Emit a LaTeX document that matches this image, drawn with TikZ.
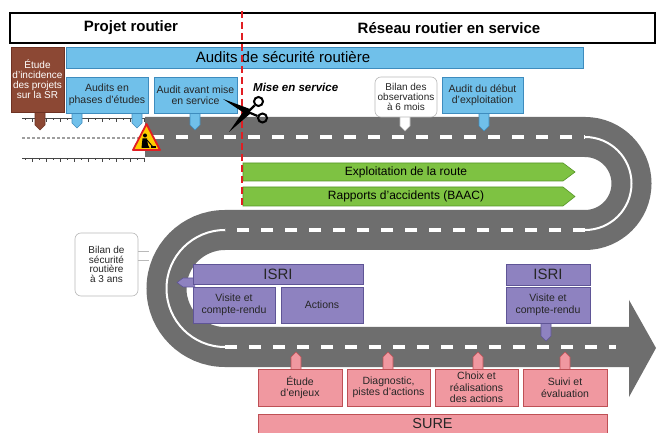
\documentclass[tikz,border=0pt]{standalone}
\usepackage{fontspec}
\setmainfont{Liberation Sans}
\usetikzlibrary{calc}

\definecolor{croad}{RGB}{110,110,110}
\definecolor{cblue}{RGB}{112,192,234}
\definecolor{cblueline}{RGB}{62,140,190}
\definecolor{cbrown}{RGB}{140,72,52}
\definecolor{cbrownline}{RGB}{110,50,35}
\definecolor{cgreen}{RGB}{126,194,66}
\definecolor{cgreenline}{RGB}{86,150,40}
\definecolor{cpurple}{RGB}{142,130,192}
\definecolor{cpurpleline}{RGB}{95,85,150}
\definecolor{cpink}{RGB}{240,152,160}
\definecolor{cpinkline}{RGB}{190,80,85}
\definecolor{cred}{RGB}{225,30,35}
\definecolor{cyellow}{RGB}{255,205,0}
\definecolor{cruler}{RGB}{70,70,70}

\newcommand{\boxfont}{\fontsize{10.5}{11.5}\selectfont}
\newcommand{\smallboxfont}{\fontsize{10}{10}\selectfont}

% tab pointing down from a box: style, x, top, tip
\newcommand{\tabdown}[4]{\draw[#1] ({#2-5},#3) -- ({#2-5},{#4-5}) -- (#2,#4) -- ({#2+5},{#4-5}) -- ({#2+5},#3);}
% tab pointing up to the road: style, x, bottom, tip
\newcommand{\tabup}[4]{\draw[#1] ({#2-5},#3) -- ({#2-5},{#4+5}) -- (#2,#4) -- ({#2+5},{#4+5}) -- ({#2+5},#3);}

\tikzset{
  box/.style={draw, line width=0.6pt, inner sep=0pt, outer sep=0pt, anchor=north west,
    align=center, font=\boxfont, text=black!85},
  bluebox/.style={box, fill=cblue, draw=cblueline},
  brownbox/.style={box, fill=cbrown, draw=cbrownline, text=white, font=\smallboxfont},
  notebox/.style={box, fill=white, draw=gray!55, rounded corners=6pt, font=\smallboxfont},
  purplebox/.style={box, fill=cpurple, draw=cpurpleline},
  pinkbox/.style={box, fill=cpink, draw=cpinkline},
  bluetab/.style={fill=cblue, draw=cblueline, line width=0.6pt},
  browntab/.style={fill=cbrown, draw=cbrownline, line width=0.6pt},
  whitetab/.style={fill=white, draw=gray!55, line width=0.6pt},
  purpletab/.style={fill=cpurple, draw=cpurpleline, line width=0.6pt},
  pinktab/.style={fill=cpink, draw=cpinkline, line width=0.6pt},
  greenbar/.style={fill=cgreen, draw=cgreenline, line width=0.6pt},
  lanedash/.style={white, line width=3.5pt, dash pattern=on 12pt off 12pt},
  laneline/.style={white, line width=2pt},
  rulerline/.style={cruler, line width=0.7pt},
  headtext/.style={inner sep=0pt, font=\fontsize{15}{16}\selectfont\bfseries},
  bigtext/.style={inner sep=0pt, font=\fontsize{15}{16}\selectfont},
  bartext/.style={inner sep=0pt, font=\fontsize{12}{13}\selectfont},
}

\begin{document}
\begin{tikzpicture}[x=1pt,y=-1pt]
\useasboundingbox (0,0) rectangle (657,433);
\fill[white] (0,0) rectangle (657,433);

% ---------- the road ----------
\draw[croad, line width=40pt] (145,137) -- (585,137)
  arc[start angle=-90, end angle=90, radius=46.5] -- (225,230)
  arc[start angle=270, end angle=90, radius=58.5] -- (630,347);
\fill[croad] (629,300) -- (656,348) -- (629,397) -- cycle;

\draw[lanedash] (152,137) -- (585,137);
\draw[laneline] (585,137) arc[start angle=-90, end angle=90, radius=46.5];
\draw[lanedash] (585,230) -- (225,230);
\draw[laneline] (225,230) arc[start angle=270, end angle=90, radius=58.5];
\draw[lanedash] (225,347) -- (616,347);

% ---------- road still being planned ----------
\draw[rulerline] (22,118) -- (145,118);
\foreach \t in {0,...,17}
  \draw[rulerline] ({25+7*\t},118) -- ({25+7*\t},{118+2.5+1.5*mod(\t,2)});
\draw[rulerline] (22,158) -- (145,158);
\foreach \t in {0,...,17}
  \draw[rulerline] ({25+7*\t},158) -- ({25+7*\t},{158+2.5+1.5*mod(\t,2)});
\draw[gray!75, line width=1.3pt, dash pattern=on 3pt off 2pt] (22,138) -- (145,138);

% ---------- header ----------
\draw[line width=1.3pt, fill=white] (10,13) rectangle (655,43);
\node[headtext] (hproj) at (131,28) {Projet routier};
\node[headtext] (hres) at (449,28) {Réseau routier en service};

% ---------- tabs under the boxes ----------
\tabdown{browntab}{40}{110}{130}
\tabdown{bluetab}{77}{111}{128}
\tabdown{bluetab}{137}{111}{128}
\tabdown{bluetab}{195}{111}{130}
\tabdown{whitetab}{405}{115}{131}
\tabdown{bluetab}{484}{111}{131}
\tabdown{purpletab}{546}{321}{341}
\tabup{pinktab}{296}{371}{352}
\tabup{pinktab}{388}{371}{352}
\tabup{pinktab}{478}{371}{352}
\tabup{pinktab}{565}{371}{352}
\draw[purpletab] (195,278) -- (183,278) -- (177,282.5) -- (183,287) -- (195,287);

% ---------- audit boxes ----------
\node[brownbox, minimum width=53, minimum height=65] (etude) at (11,47)
  {Étude\\d'incidence\\des projets\\sur la SR};
\node[bluebox, minimum width=517, minimum height=21] (asr) at (66,47) {};
\node[bigtext] (asrtext) at (283,57.5) {Audits de sécurité routière};
\node[bluebox, minimum width=82, minimum height=36] (aph) at (66,77)
  {Audits en\\phases d'études};
\node[bluebox, minimum width=83, minimum height=36] (aams) at (154,77)
  {Audit avant mise\\en service};
\node[notebox, minimum width=62, minimum height=40] (bil6) at (375,77)
  {Bilan des\\observations\\à 6 mois};
\node[bluebox, minimum width=81, minimum height=36] (adex) at (442,77)
  {Audit du début\\d'exploitation};

\node[anchor=west, inner sep=0pt, font=\fontsize{11.5}{12}\selectfont\bfseries\itshape]
  (mes) at (253,87) {Mise en service};

% ---------- operation bars ----------
\draw[greenbar] (243,163) -- (563,163) -- (575,172) -- (563,181) -- (243,181) -- cycle;
\node[bartext] (expl) at (406,172) {Exploitation de la route};
\draw[greenbar] (243,187) -- (563,187) -- (575,196.5) -- (563,206) -- (243,206) -- cycle;
\node[bartext] (baac) at (406,196.5) {Rapports d'accidents (BAAC)};

% ---------- boundary between project and operation ----------
\draw[cred, line width=2.2pt, dash pattern=on 7pt off 4pt] (242,11) -- (242,206);

% ---------- three-year review ----------
\node[notebox, minimum width=63, minimum height=63, font=\fontsize{10}{9.5}\selectfont]
  (bil3) at (75,233) {Bilan de\\sécurité\\routière\\à 3 ans};
\draw[gray!55, line width=0.6pt] ([yshift=13.5pt]bil3.east) -- ++(11,0);
\draw[gray!55, line width=0.6pt] ([yshift=4.5pt]bil3.east) -- ++(11,0);

% ---------- ISRI ----------
\node[purplebox, minimum width=170, minimum height=20, font=\fontsize{15}{16}\selectfont]
  (isril) at (193,264) {ISRI};
\node[purplebox, minimum width=82, minimum height=36] (visl) at (193,287)
  {Visite et\\compte-rendu};
\node[purplebox, minimum width=82, minimum height=36] (actl) at (281,287) {Actions};
\node[purplebox, minimum width=84, minimum height=21, font=\fontsize{15}{16}\selectfont]
  (isrir) at (506,264) {ISRI};
\node[purplebox, minimum width=84, minimum height=36] (visr) at (506,287)
  {Visite et\\compte-rendu};

% ---------- SURE ----------
\node[pinkbox, minimum width=84, minimum height=37] (enj) at (258,369) {Étude\\d'enjeux};
\node[pinkbox, minimum width=83, minimum height=37] (diag) at (347,369)
  {Diagnostic,\\pistes d'actions};
\node[pinkbox, minimum width=83, minimum height=37] (choix) at (435,369)
  {Choix et\\réalisations\\des actions};
\node[pinkbox, minimum width=84, minimum height=37] (suivi) at (523,369)
  {Suivi et\\évaluation};
\node[pinkbox, minimum width=349, minimum height=20, font=\fontsize{14.5}{15}\selectfont]
  (sure) at (258,414) {SURE};

% ---------- road works sign ----------
\draw[cred, fill=cyellow, line width=1.8pt, line join=round] (146.5,124) -- (160,150) -- (133,150) -- cycle;
\fill[black] (145,135.5) circle (2);
\fill[black] (142.5,138.5) -- (147,138.5) -- (148,145) -- (149.5,148) -- (141.5,148) -- (142,143) -- cycle;
\draw[black, line width=0.9pt] (147,140) -- (153,147);
\fill[black] (151,146) rectangle (156,148.5);

% ---------- scissors ----------
\fill[black] (223,99) -- (250,109) -- (247,115) -- cycle;
\fill[black] (229,132) -- (245,109) -- (251,113) -- cycle;
\draw[black, line width=2.2pt] (248,112) -- (254.5,105.5);
\draw[black, line width=2.2pt] (248,112) -- (257.5,116);
\draw[black, line width=2pt] (258.5,101.5) circle (4.5);
\draw[black, line width=2pt] (262.5,118) circle (4.5);
\end{tikzpicture}
\end{document}
